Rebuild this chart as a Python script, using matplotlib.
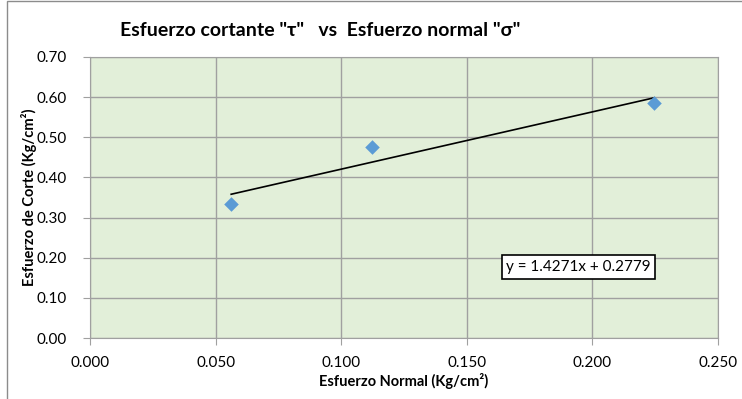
import numpy as np
import matplotlib
matplotlib.use("Agg")
from matplotlib import pyplot as plt
from matplotlib.patches import Rectangle

# datos
esf_normal = [0.0562, 0.1123, 0.2246]
esf_corte = [0.333, 0.477, 0.585]
pendiente = 1.4271
intercepto = 0.2779
x_ticks = [0.000, 0.050, 0.100, 0.150, 0.200, 0.250]
y_ticks = [0.00, 0.10, 0.20, 0.30, 0.40, 0.50, 0.60, 0.70]

plt.rcParams['font.family'] = ['Lato', 'DejaVu Sans']

fig = plt.figure(figsize=(7.42, 3.99), dpi=100)
fig.patches.append(Rectangle((7/742, -0.1), 1.2, 1.1 - 1/399, transform=fig.transFigure,
                             fill=False, edgecolor='#8c8c8c', linewidth=1.0))
ax = fig.add_axes([90/742, 1 - 338/399, 628/742, 281/399])
ax.set_facecolor('#e2efd9')

ax.scatter(esf_normal, esf_corte, marker='D', s=55, color='#5b9bd5', zorder=3, linewidths=0)
xt = np.array([min(esf_normal), max(esf_normal)])
ax.plot(xt, pendiente * xt + intercepto, color='black', linewidth=1.2, zorder=2)

ax.set_xlim(0, 0.25)
ax.set_ylim(0, 0.70)
ax.set_xticks(x_ticks)
ax.set_yticks(y_ticks)
ax.set_xticklabels(['%.3f' % v for v in x_ticks])
ax.set_yticklabels(['%.2f' % v for v in y_ticks])
ax.grid(True, color='#a0a0a0', linewidth=1.0)
ax.set_axisbelow(True)
for s in ax.spines.values():
    s.set_color('#a0a0a0')
ax.tick_params(direction='out', length=5, color='#a0a0a0', labelsize=11)
ax.tick_params(axis='y', pad=12)
ax.tick_params(axis='x', pad=8)

ax.set_xlabel('Esfuerzo Normal (Kg/cm²)', fontsize=10.5, fontweight='bold', labelpad=2)
ax.set_ylabel('Esfuerzo de Corte (Kg/cm²)', fontsize=10.5, fontweight='bold')
ax.yaxis.set_label_coords(-0.084, 0.5)

fig.text(320/742, 1 - 31/399, 'Esfuerzo cortante "τ"   vs  Esfuerzo normal "σ"',
         fontsize=14, fontweight='bold', ha='center', va='center')

ax.text(0.778, 0.2527, 'y = 1.4271x + 0.2779', transform=ax.transAxes, fontsize=11,
        ha='center', va='center',
        bbox=dict(boxstyle='square,pad=0.3', facecolor='white', edgecolor='black', linewidth=1.2))

plt.savefig('out.png', dpi=100)
